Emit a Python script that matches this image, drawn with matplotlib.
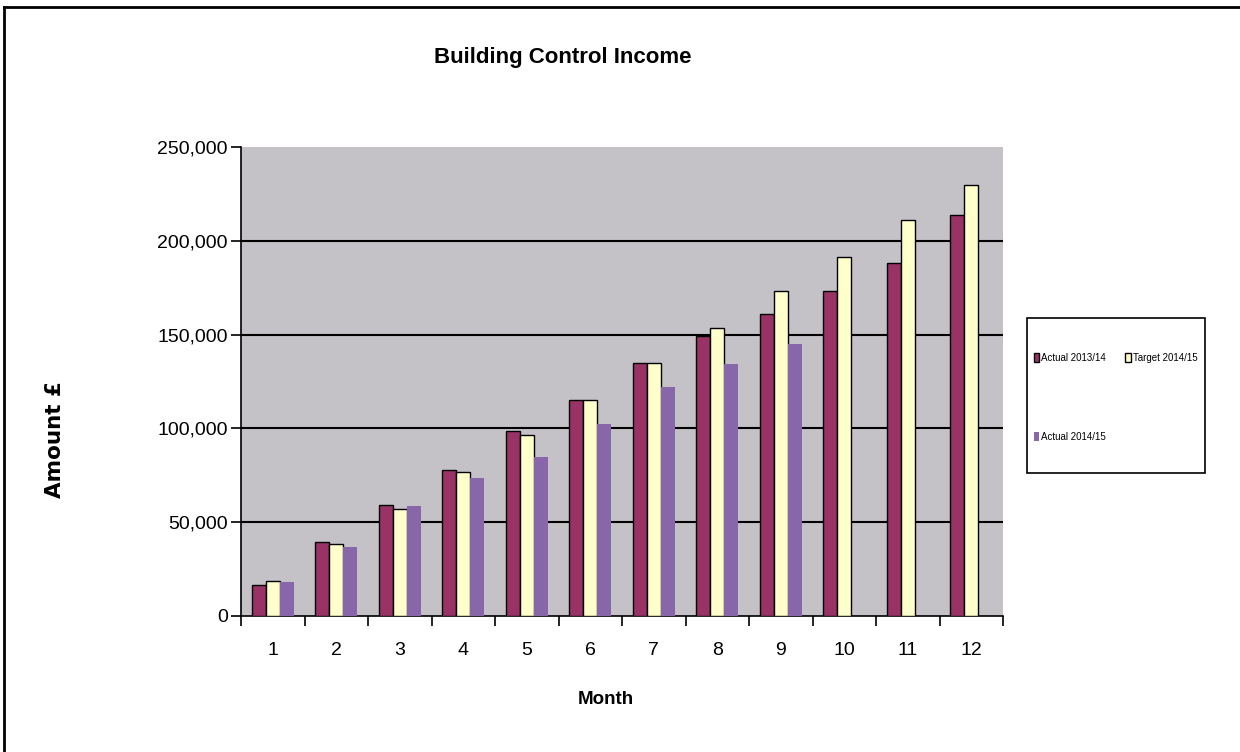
import numpy as np
import matplotlib
import matplotlib.pyplot as plt
from matplotlib.lines import Line2D
from matplotlib.patches import Patch, Rectangle

matplotlib.use("Agg")

NARROW = ["Liberation Sans Narrow", "Liberation Sans", "DejaVu Sans"]

# Data.
months = [str(m) for m in range(1, 13)]
actual_1314 = [16500, 39400, 59200, 77800, 98600, 115000, 134700, 149300, 161000, 173000, 188000, 214000]
target_1415 = [18700, 38400, 57000, 76800, 96500, 115000, 134700, 153400, 173200, 191500, 211000, 230000]
actual_1415 = [18000, 36800, 58600, 73600, 84800, 102300, 122200, 134200, 145000]
yticks = [0, 50000, 100000, 150000, 200000, 250000]

COLORS = {
    "Actual 2013/14": "#993366",
    "Target 2014/15": "#FFFFCC",
    "Actual 2014/15": "#8866AA",
}


def PlotChart():
    fig = plt.figure(figsize=(12.4, 7.52), dpi=100)
    ax = fig.add_axes([241 / 1240, 1 - 616 / 752, 762 / 1240, 469 / 752])
    ax.set_facecolor("#C4C2C6")

    x = np.arange(len(months))
    w = 0.22
    ax.bar(x - w, actual_1314, w, color=COLORS["Actual 2013/14"], edgecolor="black", linewidth=1.0, zorder=3)
    ax.bar(x, target_1415, w, color=COLORS["Target 2014/15"], edgecolor="black", linewidth=1.0, zorder=3)
    x3 = np.arange(len(actual_1415))
    ax.bar(x3 + w, actual_1415, w, color=COLORS["Actual 2014/15"], linewidth=0, zorder=3)

    for v in yticks[1:-1]:
        ax.axhline(v, color="black", linewidth=1.5, zorder=1)

    ax.set_xlim(-0.5, len(months) - 0.5)
    ax.set_ylim(0, 250000)
    ax.set_yticks(yticks)
    ax.set_yticklabels(["{:,}".format(v) for v in yticks], family=NARROW, fontsize=14)
    ax.set_xticks(x)
    ax.set_xticklabels(months, family=NARROW, fontsize=14)
    ax.set_xticks(np.arange(-0.5, len(months)), minor=True)
    ax.tick_params(axis="x", which="major", length=0, pad=19)
    ax.tick_params(axis="x", which="minor", length=7, width=1.2, direction="out")
    ax.tick_params(axis="y", length=7, width=1.2, direction="out", pad=2.5)

    for s in ["top", "right"]:
        ax.spines[s].set_visible(False)
    for s in ["left", "bottom"]:
        ax.spines[s].set_linewidth(1.2)
        ax.spines[s].set_color("black")

    fig.text(563 / 1240, 1 - 57 / 752, "Building Control Income", family=NARROW,
             fontsize=16, fontweight="bold", ha="center", va="center")
    fig.text(606 / 1240, 1 - 700 / 752, "Month", family=NARROW,
             fontsize=13.5, fontweight="bold", ha="center", va="center")
    fig.text(55 / 1240, 1 - 440 / 752, "Amount £", family="DejaVu Sans",
             fontsize=15.5, fontweight="bold", ha="center", va="center", rotation=90)

    # legend: column-first fill gives row 1 = Actual 13/14, Target 14/15; row 2 = Actual 14/15
    handles = [
        Patch(facecolor=COLORS["Actual 2013/14"], edgecolor="black", linewidth=1.0, label="Actual 2013/14"),
        Patch(facecolor=COLORS["Actual 2014/15"], edgecolor="none", label="Actual 2014/15"),
        Patch(facecolor=COLORS["Target 2014/15"], edgecolor="black", linewidth=1.0, label="Target 2014/15"),
    ]
    fig.add_artist(Rectangle((1027 / 1240, 1 - 473 / 752), 178 / 1240, 155 / 752,
                             transform=fig.transFigure, facecolor="white",
                             edgecolor="black", linewidth=1.2))
    fig.legend(handles=handles, loc="upper left", ncol=2,
               bbox_to_anchor=(1034 / 1240, 1 - 353 / 752),
               prop={"family": NARROW, "size": 7},
               handlelength=0.55, handleheight=1.0, handletextpad=0.2,
               columnspacing=2.0, labelspacing=7.1, borderpad=0,
               borderaxespad=0, frameon=False)

    # outer chart border (top and left edges visible)
    fig.add_artist(Line2D([4 / 1240, 4 / 1240], [0, 1 - 7 / 752], transform=fig.transFigure,
                          color="black", linewidth=2))
    fig.add_artist(Line2D([4 / 1240, 1], [1 - 7 / 752, 1 - 7 / 752], transform=fig.transFigure,
                          color="black", linewidth=2))

    fig.savefig("out.png", dpi=100)


if __name__ == "__main__":
    PlotChart()
